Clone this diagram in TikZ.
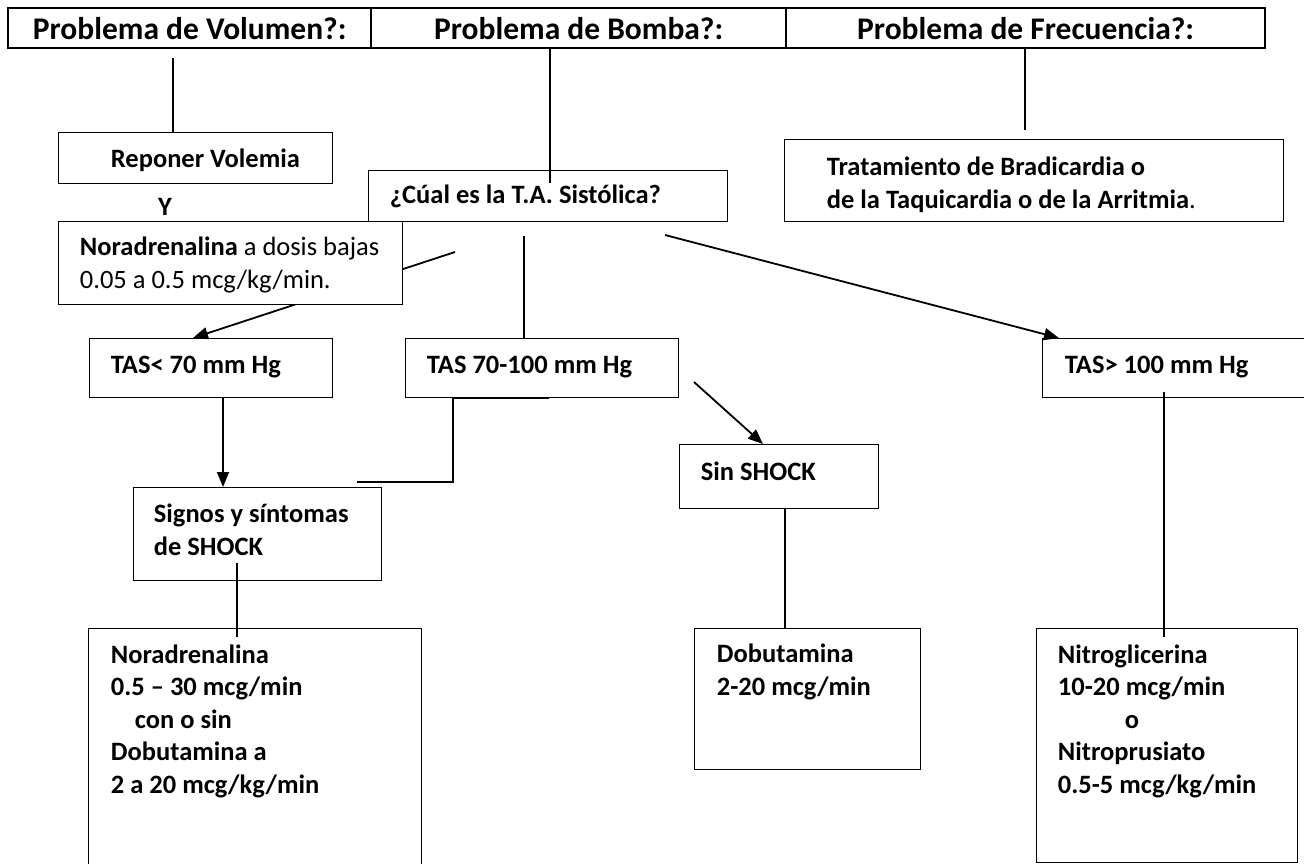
\documentclass[tikz,border=0pt]{standalone}
\usepackage{fontspec}
\setmainfont{Carlito}
\usetikzlibrary{arrows.meta}
\newcommand{\titulo}{\fontsize{31.5}{38}\selectfont\bfseries}
\newcommand{\cuerpo}{\fontsize{26.5}{32.5}\selectfont\bfseries}
\tikzset{
  cabecera/.style={draw,line width=2.4pt,minimum height=40pt,inner sep=0pt,anchor=north west,font=\titulo},
  caja/.style={draw,line width=1.3pt,inner sep=0pt,anchor=north west,fill=white},
  texto/.style={anchor=base west,inner sep=0pt,align=left,font=\cuerpo},
}

\begin{document}
\begin{tikzpicture}[x=1pt,y=-1pt,line width=1.8pt,>={Triangle[length=15pt,width=12pt]}]
  \useasboundingbox (0,0) rectangle (1304,863);
  % cabecera con los tres problemas
  \node[cabecera,minimum width=363pt] (vol) at (7,7) {Problema de Volumen?:};
  \node[cabecera,minimum width=415pt] (bom) at (370,7) {Problema de Bomba?:};
  \node[cabecera,minimum width=479pt] (fre) at (785,7) {Problema de Frecuencia?:};
  % cajas
  \node[caja,minimum width=274pt,minimum height=51pt] (repo) at (58,132) {};
  \node[caja,minimum width=359pt,minimum height=51pt] (cual) at (368,170) {};
  \node[caja,minimum width=499pt,minimum height=82pt] (trat) at (784,139) {};
  \node[caja,minimum width=243pt,minimum height=59pt] (tas1) at (89,338) {};
  \node[caja,minimum width=273pt,minimum height=59pt] (tas2) at (405,338) {};
  \node[caja,minimum width=270pt,minimum height=59pt] (tas3) at (1042,338) {};
  \node[caja,minimum width=248pt,minimum height=93pt] (sig) at (133,487) {};
  \node[caja,minimum width=199pt,minimum height=64pt] (sin) at (679,444) {};
  \node[caja,minimum width=333pt,minimum height=245pt] (nora) at (88,628) {};
  \node[caja,minimum width=226pt,minimum height=141pt] (dob) at (694,628) {};
  \node[caja,minimum width=261pt,minimum height=234pt] (nit) at (1036,628) {};
  % lineas desde la cabecera
  \coordinate (v1) at (173,58);
  \draw (v1) -- (v1 |- repo.north);
  \coordinate (b1) at (550,183);
  \draw (b1 |- bom.south) -- (b1);
  \coordinate (f1) at (1025,130);
  \draw (f1 |- fre.south) -- (f1);
  % ramas de la T.A. sistolica
  \coordinate (c1) at (455,252);
  \draw[->] (c1) -- ([xshift=104pt]tas1.north west);
  \coordinate (c2) at (524,236);
  \draw (c2) -- (c2 |- tas2.north);
  \coordinate (c3) at (665,235);
  \draw[->] (c3) -- ([xshift=17pt]tas3.north west);
  % hacia los signos de shock
  \draw[->] ([xshift=134pt]tas1.south west) -- ([xshift=90pt]sig.north west);
  \draw ([xshift=144pt]tas2.south west) -- ([xshift=48pt]tas2.south west) |- ([xshift=224pt,yshift=5pt]sig.north west);
  % sin shock
  \coordinate (s1) at (694,382);
  \draw[->] (s1) -- ([xshift=84pt]sin.north west);
  % tratamientos
  \coordinate (g1) at (237,563); \coordinate (g2) at (237,637);
  \draw (g1) -- (g2);
  \draw ([xshift=106pt]sin.south west) -- ([xshift=91pt]dob.north west);
  \coordinate (n1) at (1164,392); \coordinate (n2) at (1164,637);
  \draw (n1) -- (n2);
  % noradrenalina a dosis bajas (tapa la rama izquierda)
  \node[caja,minimum width=344pt,minimum height=83pt] (nor) at (58,221) {};
  % textos (en varias lineas: base = ultima linea)
  \node[texto] (trepo) at (110,167) {Reponer Volemia};
  \node[texto,anchor=base] (ty) at (165,215) {Y};
  \node[texto] (tnor) at (79,288) {Noradrenalina {\mdseries a dosis bajas}\\{\mdseries 0.05 a 0.5 mcg/kg/min.}};
  \node[texto] (tcual) at (389,203) {¿Cúal es la T.A. Sistólica?};
  \node[texto] (ttrat) at (826,208) {Tratamiento de Bradicardia o\\de la Taquicardia o de la Arritmia{\mdseries .}};
  \node[texto] (ttas1) at (110,373) {TAS< 70 mm Hg};
  \node[texto] (ttas2) at (426,373) {TAS 70-100 mm Hg};
  \node[texto] (ttas3) at (1064,373) {TAS> 100 mm Hg};
  \node[texto] (tsig) at (153,555) {Signos y síntomas\\de SHOCK};
  \node[texto] (tsin) at (700,480) {Sin SHOCK};
  \node[texto] (tnora) at (110,793) {Noradrenalina\\0.5 – 30 mcg/min\\\hspace*{24pt}con o sin\\Dobutamina a\\2 a 20 mcg/kg/min};
  \node[texto] (tdob) at (716,695) {Dobutamina\\2-20 mcg/min};
  \node[texto] (tnit) at (1057,793) {Nitroglicerina\\10-20 mcg/min\\\hspace*{67pt}o\\Nitroprusiato\\0.5-5 mcg/kg/min};
\end{tikzpicture}
\end{document}
